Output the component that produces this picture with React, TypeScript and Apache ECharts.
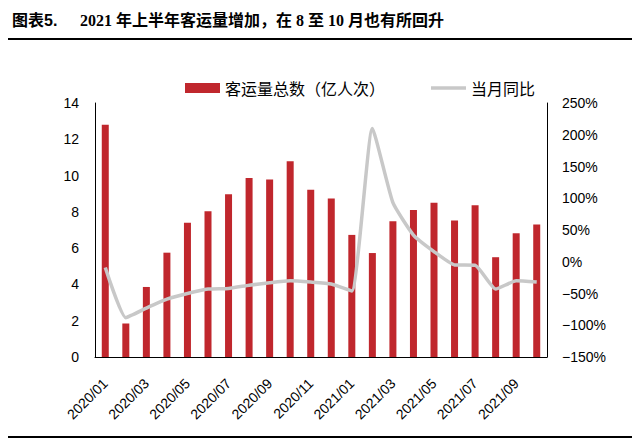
import React, { useEffect, useRef } from "react";
import * as echarts from "echarts";

const categories = [
  "2020/01", "2020/02", "2020/03", "2020/04", "2020/05", "2020/06",
  "2020/07", "2020/08", "2020/09", "2020/10", "2020/11", "2020/12",
  "2021/01", "2021/02", "2021/03", "2021/04", "2021/05", "2021/06",
  "2021/07", "2021/08", "2021/09", "2021/10",
];
const passengerTotal = [
  12.8, 1.84, 3.86, 5.75, 7.4, 8.03, 8.97, 9.87, 9.79, 10.79, 9.22, 8.73,
  6.73, 5.73, 7.48, 8.1, 8.5, 7.53, 8.36, 5.5, 6.82, 7.3,
];
const yoyPct = [
  -9, -88, -73, -59, -50, -43, -42, -37, -33, -30, -32, -35,
  -46, 210, 93, 42, 16, -5, -5.5, -43, -30, -32,
];
const titleLabel = "图表5.";
const titleText = "2021 年上半年客运量增加，在 8 至 10 月也有所回升";
const barName = "客运量总数（亿人次）";
const lineName = "当月同比";

export default function App() {
  const ref = useRef<HTMLDivElement>(null);
  useEffect(() => {
    if (!ref.current) return;
    const chart = echarts.init(ref.current, null, { renderer: "svg" });
    const axisFont = { fontFamily: "Liberation Sans, Arial, sans-serif", fontSize: 14, color: "#000" };
    chart.setOption({
      animation: false,
      backgroundColor: "#fff",
      graphic: [
        {
          type: "text",
          left: 12,
          top: 12,
          style: {
            text: titleLabel,
            font: "bold 16px 'Liberation Sans', 'Noto Sans CJK SC', sans-serif",
            fill: "#000",
          },
        },
        {
          type: "text",
          left: 80,
          top: 12,
          style: {
            text: titleText,
            font: "bold 16px 'Liberation Serif', 'Noto Sans CJK SC', serif",
            fill: "#000",
          },
        },
        {
          type: "rect",
          shape: { x: 8, y: 38, width: 624, height: 2 },
          style: { fill: "#000" },
        },
        {
          type: "rect",
          shape: { x: 8, y: 436, width: 624, height: 2 },
          style: { fill: "#000" },
        },
      ],
      legend: {
        left: 180,
        top: 75,
        itemWidth: 35,
        itemHeight: 10,
        itemGap: 46,
        textStyle: { fontSize: 16, color: "#000", fontFamily: "Noto Sans CJK SC, sans-serif" },
        data: [
          { name: barName, icon: "rect" },
          { name: lineName, icon: "path://M0,0 L35,0 L35,3.5 L0,3.5 Z", itemStyle: { color: "#C8C8C8" } },
        ],
      },
      grid: { left: 95, right: 94, top: 103, bottom: 83 },
      xAxis: {
        type: "category",
        data: categories,
        axisLine: { lineStyle: { color: "#000", width: 1 } },
        axisTick: { show: false },
        axisLabel: { ...axisFont, rotate: 45, interval: 1, margin: 24 },
      },
      yAxis: [
        {
          type: "value",
          min: 0,
          max: 14,
          interval: 2,
          axisLine: { show: true, lineStyle: { color: "#000" } },
          axisTick: { show: false },
          splitLine: { show: false },
          axisLabel: { ...axisFont, margin: 16 },
        },
        {
          type: "value",
          min: -150,
          max: 250,
          interval: 50,
          position: "right",
          axisLine: { show: true, lineStyle: { color: "#000" } },
          axisTick: { show: false },
          splitLine: { show: false },
          axisLabel: {
            ...axisFont,
            margin: 15,
            formatter: (v: number) => (v < 0 ? "\u2212" + Math.abs(v) : String(v)) + "%",
          },
        },
      ],
      series: [
        {
          name: barName,
          type: "bar",
          data: passengerTotal,
          barWidth: 7,
          itemStyle: { color: "#C0272D" },
        },
        {
          name: lineName,
          type: "line",
          yAxisIndex: 1,
          data: yoyPct,
          symbol: "none",
          smooth: 0.15,
          lineStyle: { color: "#C8C8C8", width: 3.5 },
          itemStyle: { color: "#C8C8C8" },
        },
      ],
    });
    return () => chart.dispose();
  }, []);
  return (
    <div
      ref={ref}
      style={{ position: "fixed", left: 0, top: 0, width: 641, height: 440 }}
    />
  );
}
